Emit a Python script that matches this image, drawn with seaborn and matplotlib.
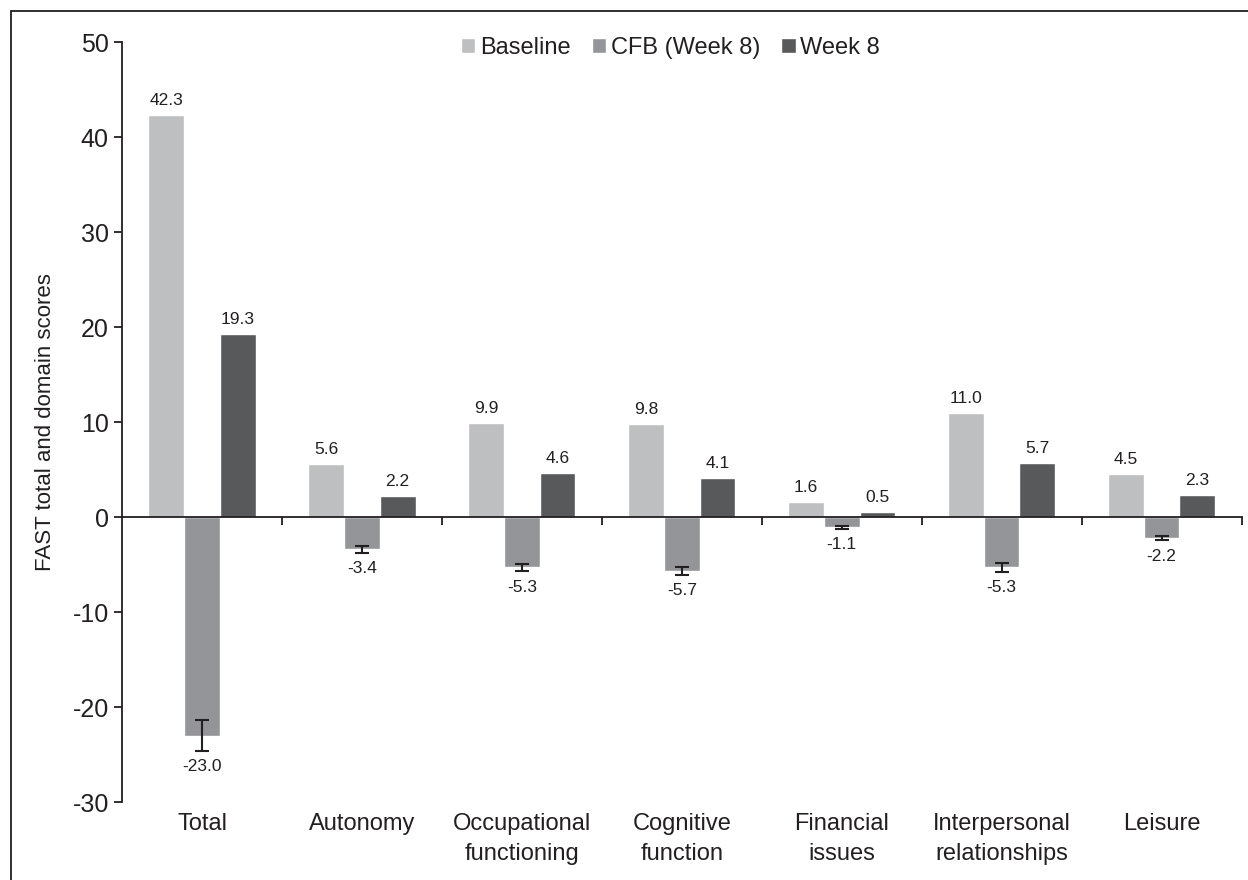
import pandas as pd
import numpy as np
import matplotlib
matplotlib.use("Agg")
import matplotlib.pyplot as plt
import seaborn as sns

# FAST scores by domain
domains = ["Total", "Autonomy", "Occupational\nfunctioning", "Cognitive\nfunction",
           "Financial\nissues", "Interpersonal\nrelationships", "Leisure"]
series = ["Baseline", "CFB (Week 8)", "Week 8"]
baseline = [42.3, 5.6, 9.9, 9.8, 1.6, 11.0, 4.5]
cfb = [-23.0, -3.4, -5.3, -5.7, -1.1, -5.3, -2.2]
week8 = [19.3, 2.2, 4.6, 4.1, 0.5, 5.7, 2.3]
cfb_err = [1.6, 0.35, 0.4, 0.4, 0.15, 0.5, 0.25]
colors = ["#bebfc1", "#939598", "#58595b"]

df = pd.DataFrame({
    "domain": domains * 3,
    "series": [s for s in series for _ in domains],
    "value": baseline + cfb + week8,
})

sns.set_style("white")
plt.rcParams["font.family"] = ["Liberation Sans", "DejaVu Sans"]
plt.rcParams["axes.unicode_minus"] = False

fig = plt.figure(figsize=(12.48, 8.8), dpi=100)
ax = fig.add_axes([0.0978, 0.0886, 0.897, 0.8636])

sns.barplot(data=df, x="domain", y="value", hue="series", palette=colors,
            width=0.67, errorbar=None, saturation=1, ax=ax)

# error bars on change from baseline
cont = ax.containers[1]
xs = [p.get_x() + p.get_width() / 2 for p in cont]
ax.errorbar(xs, cfb, yerr=cfb_err, fmt="none", ecolor="#231f20",
            elinewidth=1.5, capsize=5, capthick=1.5)

# value labels
for c, vals in zip(ax.containers, [baseline, cfb, week8]):
    for p, v in zip(c, vals):
        x = p.get_x() + p.get_width() / 2
        if v >= 0:
            ax.annotate(f"{v:.1f}", (x, v), xytext=(0, 5), textcoords="offset points",
                        ha="center", va="bottom", fontsize=12.5, color="#231f20")
for x, v, e in zip(xs, cfb, cfb_err):
    ax.annotate(f"{v:.1f}", (x, v - e), xytext=(0, -6), textcoords="offset points",
                ha="center", va="top", fontsize=12.5, color="#231f20")

ax.set_xlim(-0.5, 6.5)
ax.set_ylim(-30, 50)
ax.set_yticks(np.arange(-30, 51, 10))
ax.tick_params(axis="y", labelsize=18, direction="out", length=6, width=1.3,
               left=True, colors="#231f20")
ax.set_ylabel("FAST total and domain scores", fontsize=16, color="#231f20", labelpad=12)
ax.set_xlabel("")

# x axis sits at zero, ticks between groups
ax.spines["bottom"].set_position(("data", 0))
ax.spines["top"].set_visible(False)
ax.spines["right"].set_visible(False)
for s in ["left", "bottom"]:
    ax.spines[s].set_linewidth(1.3)
    ax.spines[s].set_color("#231f20")
ax.set_xticks(np.arange(0.5, 7, 1))
ax.set_xticklabels([])
ax.tick_params(axis="x", direction="out", length=6, width=1.3, bottom=True, colors="#231f20")

for i, d in enumerate(domains):
    ax.text(i, -31.2, d, ha="center", va="top", fontsize=17, color="#231f20",
            transform=ax.transData, linespacing=1.45)

ax.legend(loc="upper center", bbox_to_anchor=(0.49, 1.035), ncol=3, frameon=False,
          fontsize=17, handlelength=0.6, handleheight=0.6, handletextpad=0.2,
          columnspacing=0.9, labelcolor="#231f20")

# outer frame (left and top edges)
fig.add_artist(plt.Line2D([0.009, 0.009], [0, 0.9875], color="#231f20", lw=1.3))
fig.add_artist(plt.Line2D([0.009, 1], [0.9875, 0.9875], color="#231f20", lw=1.3))

fig.savefig("out.png", dpi=100)
